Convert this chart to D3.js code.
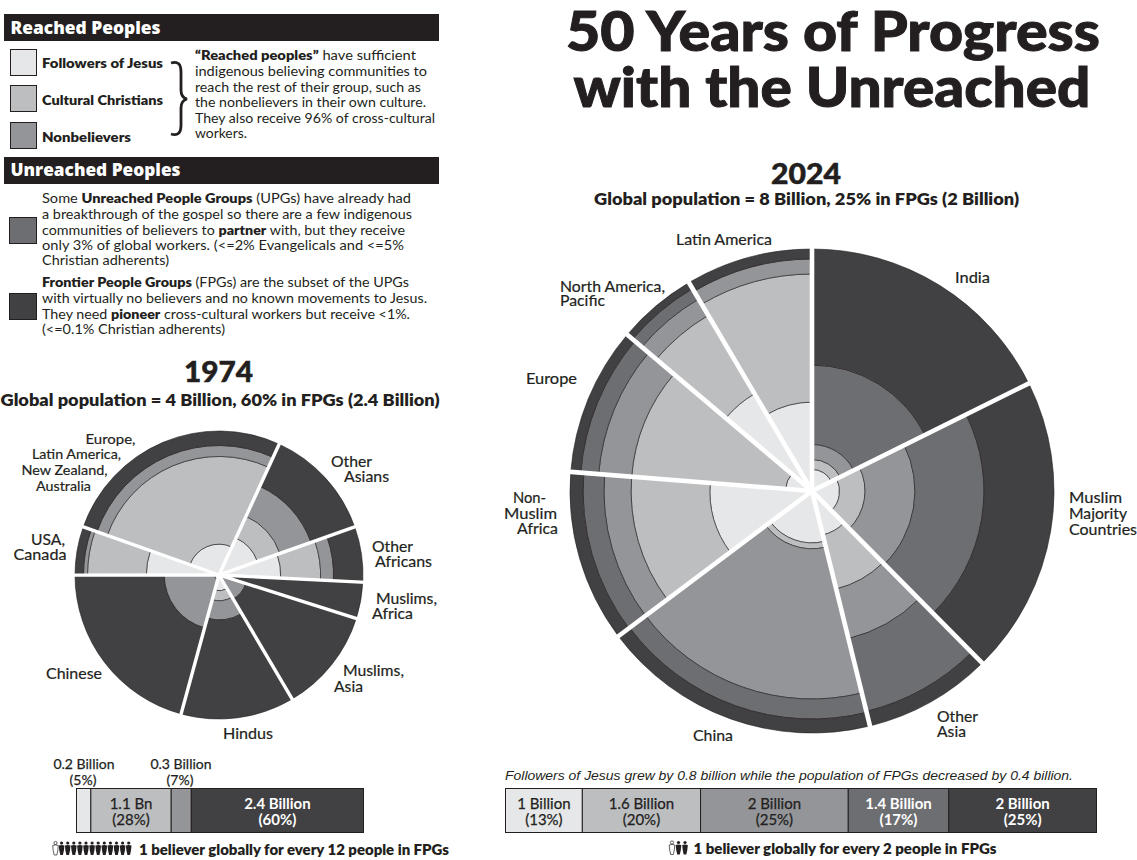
<!DOCTYPE html>
<html>
<head>
<meta charset="utf-8">
<title>50 Years of Progress with the Unreached</title>
<script src="https://cdn.jsdelivr.net/npm/d3@7/dist/d3.min.js"></script>
<style>
  html, body { margin: 0; padding: 0; background: #fff; }
  svg { display: block; }
</style>
</head>
<body>
<svg id="chart" width="1137" height="860"></svg>
<script>
// Population segments, in the order they stack outward from the pie centre
const groupNames = ["Followers of Jesus", "Cultural Christians", "Nonbelievers", "UPGs", "FPGs"];
const groupColors = ["#e6e7e8", "#bcbec0", "#939598", "#6d6e71", "#414042"];

// 1974: share of world population per bloc, then each bloc's make-up in percent
const blocs1974 = ["Europe etc.", "Other Asians", "Other Africans", "Muslims, Africa", "Muslims, Asia", "Hindus", "Chinese", "USA, Canada"];
const shares1974 = [26.44, 12.72, 6.22, 4.08, 11.64, 12.72, 20.75, 5.43];
const followers1974 = [4.6, 8.0, 18.4, 0, 0, 1.2, 0.1, 25.5];
const cultural1974 = [63.2, 12.2, 31.4, 0, 0, 2.0, 0, 57.9];
const nonbelievers1974 = [13.1, 25.8, 13.5, 1.1, 3.8, 6.5, 14.4, 5.2];
const upg1974 = [0, 0, 0, 0, 0, 0, 0, 0];
const fpg1974 = [19.1, 54.0, 36.7, 98.9, 96.2, 90.3, 85.5, 11.4];

// 2024: same structure
const blocs2024 = ["India", "Muslim Majority Countries", "Other Asia", "China", "Non-Muslim Africa", "Europe", "North America, Pacific", "Latin America"];
const shares2024 = [17.67, 19.92, 8.56, 18.61, 11.5, 9.92, 5.33, 8.49];
const followers2024 = [0.8, 1.3, 3.5, 4.6, 17.8, 1.2, 21.8, 13.5];
const cultural2024 = [0.9, 3.5, 13.9, 1.1, 38.1, 54.7, 49.3, 66.9];
const nonbelievers2024 = [2.0, 13.3, 22.1, 68.2, 18.0, 22.3, 13.8, 11.5];
const upg2024 = [23.4, 32.4, 48.5, 14.9, 15.6, 13.7, 9.4, 0];
const fpg2024 = [72.9, 49.5, 12.0, 11.2, 10.5, 8.1, 5.7, 8.1];

// Summary bars
const barValues1974 = [5, 28, 7, 60];
const barColors1974 = ["#e6e7e8", "#bcbec0", "#939598", "#414042"];
const barLabels1974 = [null, ["1.1 Bn", "(28%)"], null, ["2.4 Billion", "(60%)"]];
const barValues2024 = [13, 20, 25, 17, 25];
const barColors2024 = ["#e6e7e8", "#bcbec0", "#939598", "#6d6e71", "#414042"];
const barLabels2024 = [["1 Billion", "(13%)"], ["1.6 Billion", "(20%)"], ["2 Billion", "(25%)"], ["1.4 Billion", "(17%)"], ["2 Billion", "(25%)"]];

const INK = "#231f20";
const BODY = "Lato, 'Open Sans', sans-serif";
const svg = d3.select("#chart");

// Writes one line of text; runs are [string, bold] pairs so a line can mix weights
function label(x, y, content, o = {}) {
  const t = svg.append("text")
    .attr("x", x).attr("y", y)
    .attr("font-family", o.family || BODY)
    .attr("font-size", o.size || 13)
    .attr("font-weight", o.weight || 400)
    .attr("font-style", o.italic ? "italic" : null)
    .attr("text-anchor", o.anchor || "start")
    .attr("fill", o.fill || INK);
  if (o.width) t.attr("textLength", o.width).attr("lengthAdjust", "spacingAndGlyphs");
  if (o.thicken) t.attr("stroke", o.fill || INK).attr("stroke-width", o.thicken);
  if (typeof content === "string") t.text(content);
  else content.forEach(([s, b]) => t.append("tspan").attr("font-weight", b ? 800 : 400).text(s));
  return t;
}

// Nested-ring pie: wedge angle is the bloc's share, ring area the segment's share
function ringPie(cx, cy, R, shares, layers, startDeg, gap) {
  const g = svg.append("g").attr("transform", `translate(${cx},${cy})`);
  const start = startDeg * Math.PI / 180;
  const slices = d3.pie().sort(null).startAngle(start).endAngle(start + 2 * Math.PI)(shares);
  const radial = d3.scaleSqrt().domain([0, 100]).range([0, R]);
  const arc = d3.arc();
  slices.forEach((s, i) => {
    let cum = 0;
    layers.forEach((layer, k) => {
      const v = layer[i];
      if (v <= 0) return;
      g.append("path")
        .attr("d", arc({
          innerRadius: radial(cum),
          outerRadius: Math.min(R, radial(cum + v)),
          startAngle: s.startAngle,
          endAngle: s.endAngle
        }))
        .attr("fill", groupColors[k])
        .attr("stroke", INK)
        .attr("stroke-width", 0.6);
      cum += v;
    });
  });
  const spoke = d3.lineRadial().angle(d => d[0]).radius(d => d[1]);
  slices.forEach(s => {
    g.append("path")
      .attr("d", spoke([[s.startAngle, 0], [s.startAngle, R + 3]]))
      .attr("stroke", "#fff")
      .attr("stroke-width", gap)
      .attr("fill", "none");
  });
}

// Stacked horizontal summary bar
function summaryBar(x0, x1, y0, y1, values, colors, labels, size, light) {
  const x = d3.scaleLinear().domain([0, d3.sum(values)]).range([x0, x1]);
  let cum = 0;
  values.forEach((v, i) => {
    const a = x(cum), b = x(cum + v);
    svg.append("rect").attr("x", a).attr("y", y0).attr("width", b - a).attr("height", y1 - y0)
      .attr("fill", colors[i]).attr("stroke", INK).attr("stroke-width", 1);
    if (labels[i]) {
      const onDark = light.includes(i);
      const style = { size, anchor: "middle", fill: onDark ? "#fff" : INK, weight: onDark ? 700 : 400, thicken: onDark ? null : 0.25 };
      label((a + b) / 2, y0 + 20.5, labels[i][0], style);
      label((a + b) / 2, y0 + 36.5, labels[i][1], style);
    }
    cum += v;
  });
}

// A row of little figures: one hollow believer followed by the people per believer
function figures(x0, yBase, count, step) {
  d3.range(count + 1).forEach(i => {
    const x = x0 + i * step, hollow = i === 0;
    const g = svg.append("g").attr("transform", `translate(${x},${yBase})`);
    const paint = hollow ? "#fff" : INK;
    g.append("circle").attr("cx", 0).attr("cy", -12).attr("r", 1.6)
      .attr("fill", paint).attr("stroke", INK).attr("stroke-width", hollow ? 0.7 : 0);
    g.append("path")
      .attr("d", "M-2.8,-9.5 Q0,-10.7 2.8,-9.5 L2.3,-4.4 L1.3,0 L-1.3,0 L-2.3,-4.4 Z")
      .attr("fill", paint).attr("stroke", INK).attr("stroke-width", hollow ? 0.7 : 0);
  });
}

// ---------- Title ----------
label(833, 51, "50 Years of Progress", { size: 56, weight: 900, anchor: "middle", width: 534, thicken: 1 });
label(832, 106.5, "with the Unreached", { size: 56, weight: 900, anchor: "middle", width: 517, thicken: 1 });

// ---------- Legend: reached peoples ----------
const HEAD = "'Open Sans', sans-serif";
svg.append("rect").attr("x", 4).attr("y", 14).attr("width", 435).attr("height", 27).attr("fill", INK);
label(10.5, 33.5, "Reached Peoples", { size: 18, weight: 800, fill: "#fff", family: HEAD, width: 150 });
svg.append("rect").attr("x", 4).attr("y", 157).attr("width", 435).attr("height", 27).attr("fill", INK);
label(10.5, 175.5, "Unreached Peoples", { size: 18, weight: 800, fill: "#fff", family: HEAD, width: 170 });

const swatchTop = [49.5, 85.5, 122.5];
swatchTop.forEach((y, i) => {
  svg.append("rect").attr("x", 10.5).attr("y", y).attr("width", 26).attr("height", 26)
    .attr("fill", groupColors[i]).attr("stroke", INK).attr("stroke-width", 1);
});
label(42, 68, groupNames[0], { size: 13.5, weight: 800, width: 121 });
label(42, 104.5, groupNames[1], { size: 13.5, weight: 800, width: 121 });
label(42, 141.5, groupNames[2], { size: 13.5, weight: 800, width: 89 });

// Curly brace tying the three reached groups to their description
svg.append("path")
  .attr("d", "M171,63 C178,61 181,64 181,72 L181,90 C181,95 183,98 187,99 C183,100 181,103 181,108 L181,125 C181,133 178,136 171,134")
  .attr("fill", "none").attr("stroke", INK).attr("stroke-width", 2.8);

const reachedLines = [
  [["\u201CReached peoples\u201D", true], [" have sufficient", false]],
  [["indigenous believing communities to", false]],
  [["reach the rest of their group, such as", false]],
  [["the nonbelievers in their own culture.", false]],
  [["They also receive 96% of cross-cultural", false]],
  [["workers.", false]]
];
const reachedY = [60, 76, 91.5, 107, 122.5, 138];
const reachedW = [221, 232, 226, 231, 240, 52];
reachedLines.forEach((l, i) => label(195, reachedY[i], l, { size: 13.5, width: reachedW[i] }));

// ---------- Legend: unreached peoples ----------
svg.append("rect").attr("x", 9.5).attr("y", 217.5).attr("width", 27).attr("height", 26)
  .attr("fill", groupColors[3]).attr("stroke", INK).attr("stroke-width", 1);
svg.append("rect").attr("x", 9.5).attr("y", 293.5).attr("width", 27).attr("height", 26)
  .attr("fill", groupColors[4]).attr("stroke", INK).attr("stroke-width", 1);

const upgLines = [
  [["Some ", false], ["Unreached People Groups", true], [" (UPGs) have already had", false]],
  [["a breakthrough of the gospel so there are a few indigenous", false]],
  [["communities of believers to ", false], ["partner", true], [" with, but they receive", false]],
  [["only 3% of global workers. (<=2% Evangelicals and <=5%", false]],
  [["Christian adherents)", false]]
];
const upgY = [203, 219, 234.5, 250, 265];
const upgW = [369, 370, 363, 362, 127];
upgLines.forEach((l, i) => label(42, upgY[i], l, { size: 13.5, width: upgW[i] }));

const fpgLines = [
  [["Frontier People Groups", true], [" (FPGs) are the subset of the UPGs", false]],
  [["with virtually no believers and no known movements to Jesus.", false]],
  [["They need ", false], ["pioneer", true], [" cross-cultural workers but receive <1%.", false]],
  [["(<=0.1% Christian adherents)", false]]
];
const fpgY = [287, 303, 318.5, 334];
const fpgW = [367, 385, 368, 183];
fpgLines.forEach((l, i) => label(42, fpgY[i], l, { size: 13.5, width: fpgW[i] }));

// ---------- 1974 panel ----------
label(218.5, 382, "1974", { size: 28, weight: 900, anchor: "middle", width: 69, thicken: 0.5 });
label(220, 406, "Global population = 4 Billion, 60% in FPGs (2.4 Billion)", { size: 17, weight: 800, anchor: "middle", width: 439 });
ringPie(219, 575, 144, shares1974, [followers1974, cultural1974, nonbelievers1974, upg1974, fpg1974], -70.5, 3.4);

const pieLabels1974 = [
  ["Europe,", 85.5, 444, 50, 13.5], ["Latin America,", 32, 459, 89, 13.5], ["New Zealand,", 21.5, 475, 86, 13.5], ["Australia", 36, 490.5, 55, 13.5],
  ["USA,", 31, 545, 34, 15], ["Canada", 13.5, 560, 53, 15],
  ["Other", 331, 466.5, 41, 15], ["Asians", 344, 482, 45, 15],
  ["Other", 372, 551.5, 41, 15], ["Africans", 375, 566.5, 57, 15],
  ["Muslims,", 376, 604, 61, 15], ["Africa", 372, 619, 41, 15],
  ["Muslims,", 343, 675.5, 61, 15], ["Asia", 334, 691.5, 29, 15],
  ["Chinese", 46, 679, 56, 15], ["Hindus", 223, 739, 50, 15]
];
pieLabels1974.forEach(([s, x, y, w, size]) => label(x, y, s, { size, thicken: 0.2, width: w }));

summaryBar(76.5, 363.5, 788.5, 832.5, barValues1974, barColors1974, barLabels1974, 15, [3]);
label(84, 769, "0.2 Billion", { size: 14, anchor: "middle", thicken: 0.25 });
label(83, 785, "(5%)", { size: 14, anchor: "middle", thicken: 0.25 });
label(181, 769, "0.3 Billion", { size: 14, anchor: "middle", thicken: 0.25 });
label(180, 785, "(7%)", { size: 14, anchor: "middle", thicken: 0.25 });
figures(55.5, 855, 12, 6.1);
label(139, 855, "1 believer globally for every 12 people in FPGs", { size: 14, weight: 800, width: 310 });

// ---------- 2024 panel ----------
label(806, 184, "2024", { size: 28, weight: 900, anchor: "middle", width: 70, thicken: 0.5 });
label(806.5, 205, "Global population = 8 Billion, 25% in FPGs (2 Billion)", { size: 17, weight: 800, anchor: "middle", width: 425 });
ringPie(812, 491, 242, shares2024, [followers2024, cultural2024, nonbelievers2024, upg2024, fpg2024], 0, 4.6);

const pieLabels2024 = [
  ["India", 955, 283, 35],
  ["Muslim", 1069, 503, 53], ["Majority", 1069, 519, 58], ["Countries", 1069, 535, 68],
  ["Other", 937, 722, 41], ["Asia", 937, 737, 29],
  ["China", 693, 741, 40],
  ["Non-", 513, 503, 33], ["Muslim", 504, 519, 53], ["Africa", 517, 534, 41],
  ["Europe", 526, 384, 51],
  ["North America,", 560, 292, 105], ["Pacific", 560, 306, 45],
  ["Latin America", 676, 245, 96]
];
pieLabels2024.forEach(([s, x, y, w]) => label(x, y, s, { size: 15, thicken: 0.2, width: w }));

label(505, 780, "Followers of Jesus grew by 0.8 billion while the population of FPGs decreased by 0.4 billion.",
  { size: 13.5, italic: true, family: "'Liberation Sans', Arial, sans-serif", width: 568 });
summaryBar(505.5, 1096.5, 788.5, 832.5, barValues2024, barColors2024, barLabels2024, 15, [3, 4]);
figures(672, 854.5, 2, 6.5);
label(693.5, 853.5, "1 believer globally for every 2 people in FPGs", { size: 14, weight: 800, width: 303 });
</script>
</body>
</html>
